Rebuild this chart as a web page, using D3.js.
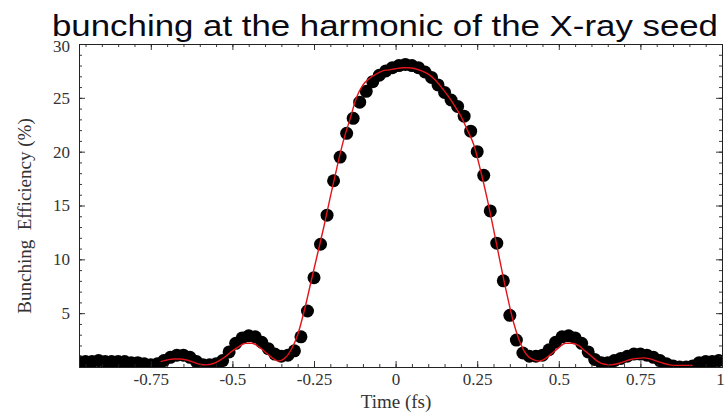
<!DOCTYPE html>
<html>
<head>
<meta charset="utf-8">
<script src="https://cdn.jsdelivr.net/npm/d3@7"></script>
<style>
  body { margin: 0; background: #fff; }
  svg { display: block; }
</style>
</head>
<body>
<script>
// data
let dotTimes = [-0.97,-0.95,-0.93,-0.91,-0.89,-0.87,-0.85,-0.83,-0.81,-0.79,
  -0.77,-0.75,-0.73,-0.71,-0.69,-0.67,-0.65,-0.63,-0.61,-0.59,
  -0.57,-0.55,-0.53,-0.51,-0.49,-0.47,-0.45,-0.43,-0.41,-0.39,
  -0.37,-0.35,-0.33,-0.31,-0.29,-0.27,-0.25,-0.23,-0.21,-0.19,
  -0.17,-0.15,-0.13,-0.11,-0.09,-0.07,-0.05,-0.03,-0.01,0.01,
  0.03,0.05,0.07,0.09,0.11,0.13,0.15,0.17,0.19,0.21,
  0.23,0.25,0.27,0.29,0.31,0.33,0.35,0.37,0.39,0.41,
  0.43,0.45,0.47,0.49,0.51,0.53,0.55,0.57,0.59,0.61,
  0.63,0.65,0.67,0.69,0.71,0.73,0.75,0.77,0.79,0.81,
  0.83,0.85,0.87,0.89,0.91,0.93,0.95,0.97,0.99,1.01];
let dotValues = [0.5,0.5,0.5,0.6,0.5,0.5,0.5,0.5,0.4,0.4,
  0.3,0.2,0.3,0.6,0.9,1.1,1.1,0.9,0.5,0.2,
  0.2,0.3,0.6,1.4,2.2,2.7,2.9,2.8,2.3,1.7,
  1.2,1.0,1.1,1.5,2.8,5.2,8.3,11.4,14.1,17.3,
  19.5,21.7,23.1,24.6,25.6,26.5,27.1,27.5,27.8,28.0,
  28.1,28.0,27.8,27.4,26.9,26.2,25.5,24.8,24.2,23.3,
  21.9,20.0,17.8,14.5,11.5,8.0,4.8,2.5,1.3,1.0,
  1.0,1.1,1.6,2.3,2.8,2.9,2.7,2.2,1.4,0.7,
  0.4,0.4,0.6,0.8,1.0,1.2,1.2,1.1,0.9,0.6,
  0.3,0.1,0.0,0.0,0.1,0.4,0.5,0.5,0.6,0.6];

let lineTimes = [-0.72,-0.70,-0.68,-0.66,-0.64,-0.62,-0.60,-0.58,-0.56,-0.54,
  -0.52,-0.50,-0.48,-0.46,-0.44,-0.42,-0.40,-0.38,-0.36,-0.34,
  -0.32,-0.30,-0.28,-0.26,-0.24,-0.22,-0.20,-0.18,-0.16,-0.14,
  -0.12,-0.10,-0.08,-0.06,-0.04,-0.02,0.00,0.02,0.04,0.06,
  0.08,0.10,0.12,0.14,0.16,0.18,0.20,0.22,0.24,0.26,
  0.28,0.30,0.32,0.34,0.36,0.38,0.40,0.42,0.44,0.46,
  0.48,0.50,0.52,0.54,0.56,0.58,0.60,0.62,0.64,0.66,
  0.68,0.70,0.72,0.74,0.76,0.78,0.80,0.82,0.84,0.86,
  0.88,0.90,0.91];
let lineValues = [0.5,0.65,0.75,0.75,0.65,0.45,0.25,0.2,0.3,0.6,
  1.0,1.5,1.9,2.2,2.2,1.9,1.4,0.9,0.55,0.8,
  1.6,3.0,5.2,7.8,10.4,13.0,15.8,18.5,21.0,23.0,
  25.0,26.2,26.8,27.2,27.5,27.6,27.7,27.8,27.8,27.7,
  27.5,27.2,26.7,26.0,25.2,24.3,23.3,22.0,20.6,18.3,
  15.7,12.8,9.8,6.9,4.3,2.4,1.2,0.7,0.55,0.8,
  1.3,1.8,2.2,2.2,2.0,1.5,1.0,0.5,0.25,0.2,
  0.3,0.5,0.7,0.8,0.85,0.75,0.55,0.35,0.2,0.15,
  0.15,0.15,0.15];

let xTickLabels = [-0.75,-0.5,-0.25,0,0.25,0.5,0.75,1];
let yTickLabels = [5,10,15,20,25,30];

let width = 725,
    height = 413;
let plotLeft = 79, plotRight = 722, plotTop = 44, plotBottom = 367;

let svg = d3.select("body")
    .append("svg")
    .attr("width", width)
    .attr("height", height);

let x = d3.scaleLinear().domain([-0.97, 1]).range([plotLeft, plotRight]);
let y = d3.scaleLinear().domain([0, 30]).range([plotBottom, plotTop]);

svg.append("clipPath")
    .attr("id", "plot")
    .append("rect")
    .attr("x", plotLeft).attr("y", plotTop)
    .attr("width", plotRight - plotLeft).attr("height", plotBottom - plotTop);

// black dots
svg.append("g")
    .attr("clip-path", "url(#plot)")
    .selectAll("circle")
    .data(dotTimes)
    .enter()
    .append("circle")
    .attr("cx", function(d){ return x(d); })
    .attr("cy", function(d, i){ return y(dotValues[i]); })
    .attr("r", 6.5)
    .style("fill", "#000");

// red curve
let line = d3.line()
    .x(function(d){ return x(d); })
    .y(function(d, i){ return y(lineValues[i]); })
    .curve(d3.curveMonotoneX);

svg.append("path")
    .datum(lineTimes)
    .attr("d", line)
    .attr("clip-path", "url(#plot)")
    .style("fill", "none")
    .style("stroke", "#e3141b")
    .style("stroke-width", 1.4);

// frame with inside ticks
let minorX = d3.range(-95, 101, 5).map(function(d){ return d / 100; });
let minorY = d3.range(1, 30);

function frameAxis(axis, tr, size, values, labels) {
    let g = svg.append("g")
        .attr("transform", tr)
        .call(axis.tickValues(values).tickSize(size).tickSizeOuter(0)
            .tickFormat(labels ? function(d){ return String(d); } : ""));
    g.select(".domain").style("stroke", "#222").style("stroke-width", 1);
    g.selectAll(".tick line").style("stroke", "#222").style("stroke-width", 0.9);
    g.selectAll("text")
        .style("font-family", "'Liberation Serif', 'DejaVu Serif', serif")
        .style("font-size", "17px")
        .style("fill", "#333");
    return g;
}

frameAxis(d3.axisBottom(x), "translate(0," + plotBottom + ")", -3, minorX, false);
let gx = frameAxis(d3.axisBottom(x), "translate(0," + plotBottom + ")", -6, xTickLabels, true);
gx.selectAll("text").attr("y", 18).attr("dy", "0");
// keep the last label inside the window
gx.selectAll("text").filter(function(d){ return d === 1; }).attr("x", -2);
frameAxis(d3.axisTop(x), "translate(0," + plotTop + ")", -3, minorX, false);
frameAxis(d3.axisTop(x), "translate(0," + plotTop + ")", -6, xTickLabels, false);

frameAxis(d3.axisLeft(y), "translate(" + plotLeft + ",0)", -3, minorY, false);
let gy = frameAxis(d3.axisLeft(y), "translate(" + plotLeft + ",0)", -6, yTickLabels, true);
gy.selectAll("text").attr("x", -9);
gy.selectAll("text").filter(function(d){ return d === 30; }).attr("dy", "0.45em");
frameAxis(d3.axisRight(y), "translate(" + plotRight + ",0)", -3, minorY, false);
frameAxis(d3.axisRight(y), "translate(" + plotRight + ",0)", -6, yTickLabels, false);

// titles
svg.append("text")
    .attr("x", 52)
    .attr("y", 36)
    .attr("textLength", 666)
    .attr("lengthAdjust", "spacingAndGlyphs")
    .style("font-family", "'Liberation Sans', Arial, sans-serif")
    .style("font-size", "30px")
    .style("fill", "#0a0a14")
    .text("bunching at the harmonic of the X-ray seed");

svg.append("text")
    .attr("x", 396)
    .attr("y", 408)
    .attr("text-anchor", "middle")
    .style("font-family", "'Liberation Serif', serif")
    .style("font-size", "19px")
    .style("fill", "#333")
    .text("Time (fs)");

svg.append("text")
    .attr("transform", "translate(31,216) rotate(-90)")
    .attr("text-anchor", "middle")
    .style("font-family", "'Liberation Serif', serif")
    .style("font-size", "19px")
    .style("fill", "#333")
    .style("white-space", "pre")
    .text("Bunching  Efficiency (%)");
</script>
</body>
</html>
